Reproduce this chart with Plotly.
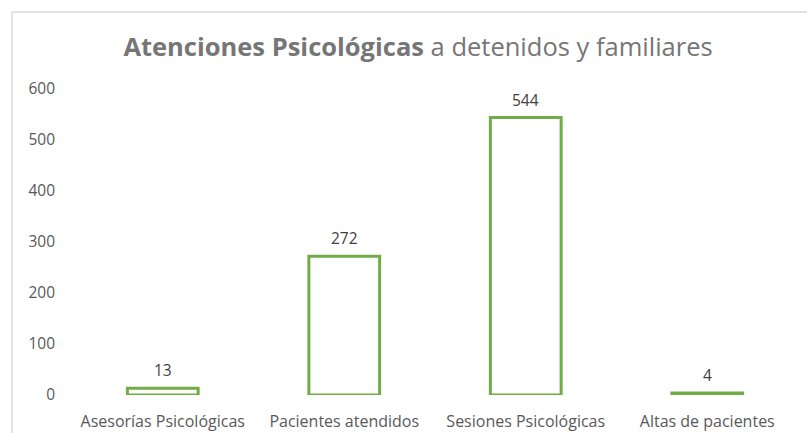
import plotly.graph_objects as go

categories = ["Asesorías Psicológicas", "Pacientes atendidos", "Sesiones Psicológicas", "Altas de pacientes"]
values = [13, 272, 544, 4]
y_ticks = [0, 100, 200, 300, 400, 500, 600]

green = "#70AD47"
font_family = "'Open Sans', sans-serif"

fig = go.Figure()
fig.add_trace(go.Bar(
    x=categories, y=values, width=0.39,
    marker=dict(color="white", line=dict(color=green, width=3)),
    hoverinfo="x+y", showlegend=False,
))

for c, v in zip(categories, values):
    fig.add_annotation(x=c, y=v, text=str(v), showarrow=False, yshift=18,
                       font=dict(family=font_family, size=15.5, color="#404040"))

fig.update_layout(
    width=807, height=433,
    margin=dict(l=72, r=9, t=89, b=38),
    paper_bgcolor="white", plot_bgcolor="white",
    font=dict(family=font_family, color="#595959"),
    title=dict(
        text="<b>Atenciones Psicológicas</b> a detenidos y familiares",
        x=0.518, xref="container", xanchor="center",
        y=1 - 47 / 433, yref="container", yanchor="middle",
        font=dict(family=font_family, size=25.5, color="#767676"),
    ),
    xaxis=dict(showgrid=False, showline=False, zeroline=False, ticks="", automargin=False,
               tickfont=dict(size=16, color="#595959"), ticklabelstandoff=15),
    yaxis=dict(range=[0, 600], tickvals=y_ticks, showgrid=False, showline=False, automargin=False,
               zeroline=False, ticks="", tickfont=dict(size=15.5, color="#595959"),
               ticklabelstandoff=16),
    shapes=[
        dict(type="line", xref="paper", yref="paper", x0=(12 - 72) / 726, x1=(807 - 72) / 726,
             y0=(395 - 12) / 306, y1=(395 - 12) / 306, line=dict(color="#d9d9d9", width=1.5)),
        dict(type="line", xref="paper", yref="paper", x0=(12 - 72) / 726, x1=(12 - 72) / 726,
             y0=(395 - 12) / 306, y1=(395 - 433) / 306, line=dict(color="#d9d9d9", width=1.5)),
    ],
)

fig.write_html("out.html", config={"displayModeBar": False},
               post_script="document.body.style.margin='0';")
